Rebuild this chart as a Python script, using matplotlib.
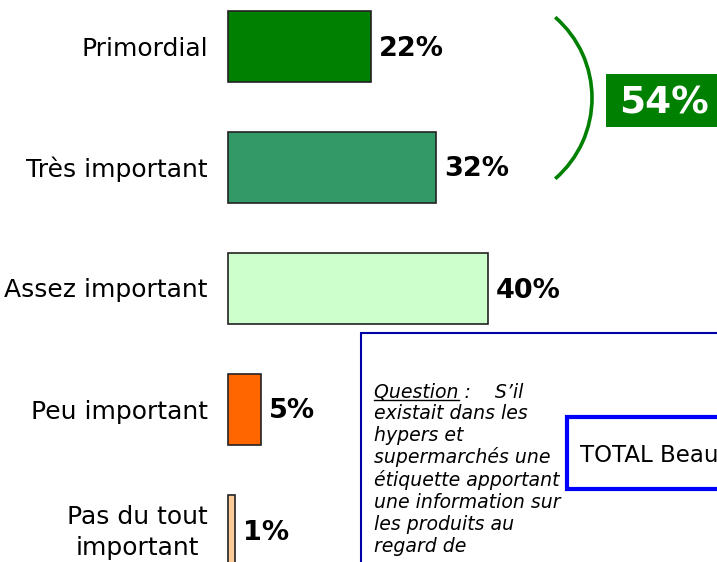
import matplotlib
matplotlib.use("Agg")
import matplotlib.pyplot as plt
from matplotlib.patches import Arc, Rectangle
from matplotlib.lines import Line2D

categories = ["Primordial", "Très important", "Assez important", "Peu important", "Pas du tout\nimportant"]
values = [22, 32, 40, 5, 1]
value_labels = ["22%", "32%", "40%", "5%", "1%"]
colors = ["#008000", "#339966", "#CCFFCC", "#FF6600", "#FFCC99"]
total_label = "54%"
question_lines = ["existait dans les", "hypers et", "supermarchés une",
                  "étiquette apportant", "une information sur", "les produits au", "regard de"]
box_label = "TOTAL Beauce"

W, H = 717, 562
fig = plt.figure(figsize=(W / 100, H / 100), dpi=100)
plt.rcParams['font.family'] = ['DejaVu Sans']

PX_PER_PCT = 6.5
X0 = 228
Y0 = 46
STEP = 121

ax = fig.add_axes([0, 0, 1, 1])
ax.set_xlim(-X0 / PX_PER_PCT, (W - X0) / PX_PER_PCT)
ax.set_ylim((H - Y0) / STEP, -Y0 / STEP)
ax.axis("off")

ypos = list(range(len(categories)))
ax.barh(ypos, values, height=71 / STEP, color=colors, edgecolor="#222222", linewidth=1.2, left=0)
dy = 2.5 / STEP
for y, v, lab, cat in zip(ypos, values, value_labels, categories):
    ax.text(v + 8 / PX_PER_PCT, y + dy, lab, ha="left", va="center", fontsize=19.5, fontweight="bold", color="black")
    ax.text(-20 / PX_PER_PCT, y + dy, cat, ha="right", va="center", multialignment="center",
            fontsize=18, color="black", linespacing=1.32)

# overlay in pixel coordinates
ov = fig.add_axes([0, 0, 1, 1], facecolor="none")
ov.set_xlim(0, W)
ov.set_ylim(H, 0)
ov.axis("off")

ov.add_patch(Arc((485, 98), 214, 214, theta1=-49, theta2=49, color="#008000", lw=2.6))
ov.add_patch(Rectangle((606, 74), 130, 53, facecolor="#008000", edgecolor="none"))
ov.text(619, 104, total_label, ha="left", va="center", fontsize=27, fontweight="bold", color="white")

# question box
FS_Q = 13.6
B0, BSTEP = 397, 22.15
ov.add_patch(Rectangle((361, 333), 400, 300, facecolor="white", edgecolor="#0000AA", lw=1.5))
qt = ov.text(374, B0, "Question", ha="left", va="baseline", fontsize=FS_Q, style="italic")
ov.text(374, B0, "Question :    S\u2019il", ha="left", va="baseline", fontsize=FS_Q, style="italic", color="black")
fig.canvas.draw()
bb = qt.get_window_extent()
inv = ov.transData.inverted()
(x1, _), (x2, _) = inv.transform([(bb.x0, bb.y0), (bb.x1, bb.y0)])
ov.add_line(Line2D([x1, x2], [B0 + 3, B0 + 3], color="black", lw=1))
qt.set_visible(False)
for i, line in enumerate(question_lines):
    ov.text(374, B0 + BSTEP * (i + 1), line, ha="left", va="baseline", fontsize=FS_Q, style="italic")

ov.add_patch(Rectangle((567, 417), 200, 72, facecolor="white", edgecolor="#0000FF", lw=3))
ov.text(580, 455, box_label, ha="left", va="center", fontsize=16.5, color="black")

fig.savefig("out.png", dpi=100)
